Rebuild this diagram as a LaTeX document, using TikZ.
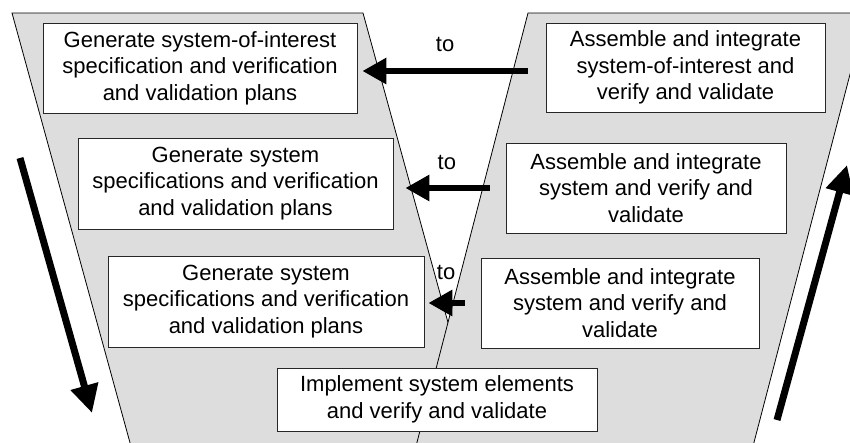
\documentclass[tikz,border=0pt]{standalone}
\usepackage{fontspec}
\usepackage{tikz}
\usetikzlibrary{arrows.meta}
\newfontfamily\vfont{Liberation Sans}
\definecolor{vgray}{RGB}{221,221,221}

\begin{document}
\begin{tikzpicture}[x=1pt,y=-1pt,
    vshape/.style={fill=vgray,draw=black,line width=0.8pt},
    box/.style={draw=black!85,fill=white,line width=0.8pt,align=center,inner sep=0pt,
      font=\vfont\fontsize{22pt}{26.5pt}\selectfont},
    flow/.style={line width=6.5pt,-{Triangle[length=24pt,width=25pt]}},
    big/.style={line width=7pt,-{Triangle[length=28pt,width=27pt]}},
    tolabel/.style={font=\vfont\fontsize{22pt}{26.5pt}\selectfont}]
    \clip (0,0) rectangle (850,442);
    % the two legs of the V
    \filldraw[vshape] (12,13) -- (363,13) -- (483,450) -- (132,450) -- cycle;
    \filldraw[vshape] (528,13) -- (866,13) -- (752,450) -- (415,450) -- cycle;
    % left leg
    \node[box,minimum width=314pt,minimum height=90pt] (b1) at (200,68)
        {Generate system-of-interest\\specification and verification\\and validation plans};
    \node[box,minimum width=315pt,minimum height=91pt] (b2) at (235.5,183.5)
        {Generate system\\specifications and verification\\and validation plans};
    \node[box,minimum width=316pt,minimum height=91pt] (b3) at (266,301.5)
        {Generate system\\specifications and verification\\and validation plans};
    % bottom
    \node[box,minimum width=320pt,minimum height=63pt] (b4) at (437,399.5)
        {Implement system elements\\and verify and validate};
    % right leg
    \node[box,minimum width=279pt,minimum height=89pt] (r1) at (685.5,67.5)
        {Assemble and integrate\\system-of-interest and\\verify and validate};
    \node[box,minimum width=280pt,minimum height=90pt] (r2) at (646,188)
        {Assemble and integrate\\system and verify and\\validate};
    \node[box,minimum width=278pt,minimum height=90pt] (r3) at (620,303)
        {Assemble and integrate\\system and verify and\\validate};
    % across the V
    \draw[flow,shorten <=18pt,shorten >=5pt] ([yshift=-3.5pt]r1.west) -- ([yshift=-3.5pt]r1.west -| b1.east)
        node[tolabel,pos=0.534,above=12.7pt] (to1) {to};
    \draw[flow,shorten <=16pt,shorten >=12pt] (r2.west) -- (r2.west -| b2.east)
        node[tolabel,pos=0.524,above=11.7pt] (to2) {to};
    \draw[flow,shorten <=16pt,shorten >=4pt] (r3.west) -- (r3.west -| b3.east)
        node[tolabel,pos=0.614,above=16.7pt] (to3) {to};
    % down and up
    \coordinate (dtop) at (20,158);
    \coordinate (dend) at (92,413);
    \coordinate (ubot) at (777,420);
    \coordinate (utop) at (847,165);
    \draw[big] (dtop) -- (dend);
    \draw[big] (ubot) -- (utop);
\end{tikzpicture}
\end{document}
